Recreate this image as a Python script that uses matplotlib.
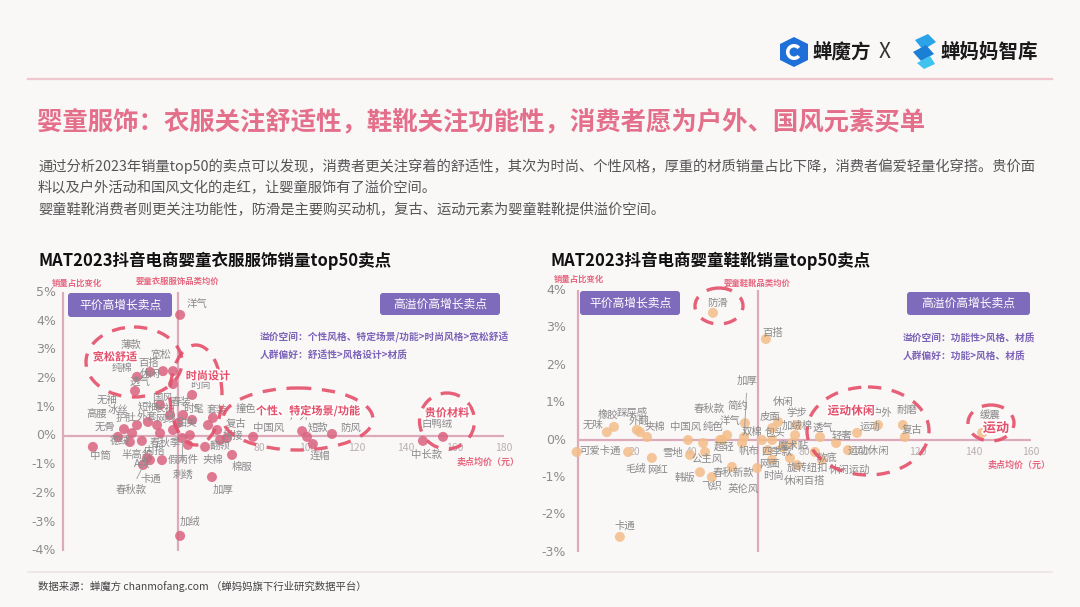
import matplotlib
matplotlib.use('Agg')
import matplotlib.pyplot as plt
import matplotlib.patheffects as pe
from matplotlib.patches import Ellipse, FancyBboxPatch, Polygon, Wedge

plt.rcParams['font.family'] = ['Noto Sans CJK SC', 'DejaVu Sans']

# ---------------- DATA ----------------
clothes_names = ['洋气', '薄款', '宽松', '百搭', '纯棉', '休闲', '透气', '时尚',
                 '无袖', '高腰', '冰丝', '护肚', '外套', '无骨', '德绒', '中筒',
                 '半高领', '内搭', 'A类', '卡通', '春秋款', '短袖', '长袖', '国风',
                 '春装', '时髦', '甜美', '套装', '撞色', '复古', '拼接', '翻领',
                 '夹棉', '假两件', '刺绣', '棉服', '加厚', '加绒', '中国风', '户外',
                 '短款', '防风', '连帽', '中长款', '白鸭绒', '网纱', '春秋季']
clothes_price = [47.8, 35.5, 44.9, 40.8, 30.2, 44.9, 29.4, 52.7,
                 24.9, 28.2, 30.2, 34.7, 38.4, 22.4, 27.3, 12.2,
                 32.2, 40.4, 35.5, 32.7, 34.3, 39.6, 43.7, 49.0,
                 46.9, 52.7, 51.8, 61.2, 62.9, 59.2, 64.1, 58.0,
                 66.9, 51.0, 48.6, 69.0, 60.8, 47.8, 77.6, 97.6,
                 99.6, 109.8, 102.0, 146.9, 155.1, 39.6, 44.9]
clothes_change = [4.22, 2.23, 2.26, 2.26, 2.06, 1.81, 1.57, 1.43,
                  0.24, 0.10, 0.38, 0.49, 0.38, -0.03, -0.21, -0.38,
                  -0.17, -0.84, -0.84, -1.01, -0.77, 1.08, 0.73, 0.73,
                  0.45, 0.56, 0.03, 0.63, 0.21, 0.38, -0.14, -0.38,
                  -0.07, -0.31, -0.07, -0.66, -1.43, -3.48, -0.03, 0.17,
                  -0.03, 0.07, -0.28, -0.17, -0.03, 0.10, 0.21]
clothes_avg_price = 47.0

shoes_names = ['防滑', '百搭', '加厚', '简约', '春秋款', '洋气', '中国风', '纯色',
               '双棉', '包头', '休闲', '皮面', '学步', '加绒棉', '透气', '轻奢',
               '运动', '户外', '耐磨', '复古', '缓震', '运动休闲', '休闲运动', '软底',
               '旋转纽扣', '休闲百搭', '时尚', '网面', '四季款', '魔术贴', '帆布', '超轻',
               '公主风', '雪地', '韩版', '飞织', '春秋新款', '英伦风', '网红', '毛绒',
               '可爱卡通', '无味', '橡胶', '踩屎感', '外翻', '夹棉', '卡通']
shoes_price = [47.7, 66.4, 58.7, 59.0, 50.9, 52.7, 38.9, 44.2,
               65.0, 68.6, 70.7, 68.6, 77.4, 76.7, 85.5, 91.2,
               98.6, 106.0, 114.8, 115.5, 142.8, 95.4, 86.2, 83.7,
               74.9, 77.4, 68.6, 67.1, 72.4, 75.6, 58.0, 50.2,
               44.9, 39.6, 43.1, 47.3, 54.4, 63.3, 26.1, 17.7,
               -0.5, 10.2, 12.7, 20.8, 21.9, 24.4, 14.8]
shoes_change = [3.40, 2.70, 0.08, 0.45, 0.00, 0.13, 0.00, -0.08,
                0.00, 0.00, 0.48, 0.32, 0.40, 0.13, 0.08, -0.08,
                0.19, 0.40, 0.40, 0.08, 0.19, -0.27, -0.53, -0.32,
                -0.48, -0.67, -0.53, -0.27, -0.19, -0.08, -0.08, 0.00,
                -0.32, -0.40, -0.86, -0.99, -0.72, -0.75, -0.48, -0.32,
                -0.32, 0.21, 0.35, 0.27, 0.21, 0.08, -2.59]
shoes_avg_price = 63.6

clothes_yticks = [5, 4, 3, 2, 1, 0, -1, -2, -3, -4]
clothes_xticks = [80, 100, 120, 140, 160, 180]
shoes_yticks = [4, 3, 2, 1, 0, -1, -2, -3]
shoes_xticks = [20, 40, 80, 100, 120, 140, 160]

# label offsets (screen pixels: right, down) -- styling only
clothes_lab = {'洋气': (17, -11), '薄款': (-19, -27), '宽松': (-12, -17), '百搭': (-14, -8),
               '纯棉': (-15, -9), '休闲': (-23, -10), '透气': (5, -8), '时尚': (8, -10),
               '无袖': (-17, -29), '高腰': (-35, -19), '冰丝': (-19, -15), '护肚': (-22, -4),
               '外套': (-10, -8), '无骨': (-13, -10), '德绒': (-10, -1), '中筒': (7, 9),
               '半高领': (-5, 14), '内搭': (-8, -9), 'A类': (-8, 3), '卡通': (8, 14),
               '春秋款': (-16, 32), '短袖': (-12, 2), '长袖': (-5, -6), '国风': (-21, -17),
               '春装': (3, -21), '时髦': (1, -11), '甜美': (-3, -12), '套装': (4, -8),
               '撞色': (29, -21), '复古': (28, -1), '拼接': (13, -4), '翻领': (15, -1),
               '夹棉': (-14, 22), '假两件': (-5, 15), '刺绣': (1, 37), '棉服': (10, 12),
               '加厚': (11, 13), '加绒': (10, -14), '中国风': (15, -9), '户外': (-2, -15),
               '短款': (11, -9), '防风': (18, -6), '连帽': (7, 12), '中长款': (4, 14),
               '白鸭绒': (-6, -13), '网纱': (5, -14), '春秋季': (-8, 13)}
clothes_leader = ['春秋款', '刺绣', '套装']

shoes_lab = {'防滑': (5, -10), '百搭': (7, -6), '加厚': (3, -56), '简约': (-7, -17),
             '春秋款': (-13, -31), '洋气': (3, -14), '中国风': (-3, -13), '纯色': (10, -16),
             '双棉': (-10, -8), '包头': (3, -7), '休闲': (5, -20), '皮面': (-2, -11),
             '学步': (0, -12), '加绒棉': (2, -9), '透气': (3, -8), '轻奢': (6, -7),
             '运动': (13, -6), '户外': (4, -12), '耐磨': (4, -15), '复古': (7, -7),
             '缓震': (8, -18), '运动休闲': (20, 1), '休闲运动': (28, 10), '软底': (12, 6),
             '旋转纽扣': (18, 10), '休闲百搭': (8, 16), '时尚': (1, 16), '网面': (2, 14),
             '四季款': (-6, 5), '魔术贴': (1, 3), '帆布': (6, 8), '超轻': (4, 7),
             '公主风': (2, 7), '雪地': (-17, -2), '韩版': (-15, 6), '飞织': (0, 9),
             '春秋新款': (1, 6), '英伦风': (-14, 21), '网红': (6, 12), '毛绒': (8, 17),
             '可爱卡通': (24, -1), '无味': (-14, -7), '橡胶': (-6, -12), '踩屎感': (-5, -17),
             '外翻': (-1, -11), '夹棉': (8, -10), '卡通': (5, -11)}
shoes_leader = ['加厚']

# ---------------- FIGURE ----------------
W, H = 1080, 607
fig = plt.figure(figsize=(10.8, 6.07), dpi=100)
BG = '#faf7f7'
fig.patch.set_facecolor(BG)


def chart_axes(x0, xs, xlim, y0, ys, ylim):
    left = x0 + xs * xlim[0]
    right = x0 + xs * xlim[1]
    top = y0 - ys * ylim[1]
    bottom = y0 - ys * ylim[0]
    ax = fig.add_axes([left / W, 1 - bottom / H, (right - left) / W, (bottom - top) / H])
    ax.set_xlim(xlim)
    ax.set_ylim(ylim)
    ax.axis('off')
    return ax


GRAY_LAB = '#8a8a8a'
AXIS_COL = '#dcaab8'


def draw_chart(ax, names, px, py, avg, ymin, ymax, xmax, yticks, xticks, labs, leaders,
               dot_color, ytx, xty):
    ax.plot([0, 0], [ymin, ymax], color=AXIS_COL, lw=1.6, zorder=1, solid_capstyle='butt')
    ax.plot([avg, avg], [ymin, ymax], color=AXIS_COL, lw=1.6, zorder=1, solid_capstyle='butt')
    ax.plot([0, xmax], [0, 0], color=AXIS_COL, lw=1.6, zorder=1, solid_capstyle='butt')
    for t in yticks:
        ax.annotate(f'{t}%', (0, t), xytext=(ytx, 0), textcoords='offset pixels',
                    ha='right', va='center', fontsize=9, color='#8c8c8c',
                    family=['DejaVu Sans'])
    for t in xticks:
        ax.annotate(f'{t}', (t, 0), xytext=(0, xty), textcoords='offset pixels',
                    ha='center', va='center', fontsize=7.5, color='#b8b0b0')
    ax.scatter(px, py, s=52, color=dot_color, alpha=0.85, edgecolors='none', zorder=3)
    for n, x, y in zip(names, px, py):
        dx, dy = labs.get(n, (0, -10))
        kw = {}
        if n in leaders:
            kw['arrowprops'] = dict(arrowstyle='-', color='#9a9a9a', lw=0.6,
                                    shrinkA=3, shrinkB=2)
        ax.annotate(n, (x, y), xytext=(dx, -dy), textcoords='offset pixels',
                    ha='center', va='center', fontsize=7.5, color=GRAY_LAB, zorder=4, **kw)


# left chart: 0 price at px 63, 2.45 px/unit ; 0% at py 436, 28.7 px per 1%
axL = chart_axes(63, 2.45, (-12, 190), 436, 28.7, (-4.3, 5.6))
draw_chart(axL, clothes_names, clothes_price, clothes_change, clothes_avg_price,
           -4, 5, 180, clothes_yticks, clothes_xticks, clothes_lab, clothes_leader,
           '#d9637f', -7, -12)

# right chart: 0 price at px 578, 2.83 px/unit ; 0% at py 440, 37.4 px per 1%
axR = chart_axes(578, 2.83, (-12, 170), 440, 37.4, (-3.3, 4.5))
draw_chart(axR, shoes_names, shoes_price, shoes_change, shoes_avg_price,
           -3, 4, 160, shoes_yticks, shoes_xticks, shoes_lab, shoes_leader,
           '#f3bd88', -12, -12)

# ---------------- OVERLAY (pixel space) ----------------
ov = fig.add_axes([0, 0, 1, 1])
ov.set_xlim(0, W)
ov.set_ylim(H, 0)
ov.axis('off')
ov.patch.set_alpha(0)

# header logos
hexag = Polygon([(794, 37), (808, 44), (808, 60), (794, 67), (780, 60), (780, 44)],
                closed=True, facecolor='#1f6fd8', edgecolor='none')
ov.add_patch(hexag)
ov.add_patch(Wedge((794, 52), 8, 40, 320, width=3.5, facecolor='white', edgecolor='none'))
ov.text(812, 52, '蝉魔方', fontsize=14, fontweight='bold', color='#1a1a1a', va='center', ha='left')
ov.text(885, 52, 'X', fontsize=15, color='#333333', va='center', ha='center')
ov.add_patch(Polygon([(915, 40), (928, 34), (936, 42), (923, 50)], facecolor='#2aa3e8', edgecolor='none'))
ov.add_patch(Polygon([(913, 52), (926, 45), (934, 54), (921, 61)], facecolor='#1b7fd6', edgecolor='none'))
ov.add_patch(Polygon([(917, 63), (930, 56), (935, 64), (924, 69)], facecolor='#3fc3ee', edgecolor='none'))
ov.text(940, 52, '蝉妈妈智库', fontsize=14, fontweight='bold', color='#1a1a1a', va='center', ha='left')

ov.plot([28, 1052], [79, 79], color='#f0c6cf', lw=1.6)

ov.text(37, 122, '婴童服饰：衣服关注舒适性，鞋靴关注功能性，消费者愿为户外、国风元素买单',
        fontsize=18.3, fontweight='bold', color='#e46f8b', va='center', ha='left')

body = ['通过分析2023年销量top50的卖点可以发现，消费者更关注穿着的舒适性，其次为时尚、个性风格，厚重的材质销量占比下降，消费者偏爱轻量化穿搭。贵价面',
        '料以及户外活动和国风文化的走红，让婴童服饰有了溢价空间。',
        '婴童鞋靴消费者则更关注功能性，防滑是主要购买动机，复古、运动元素为婴童鞋靴提供溢价空间。']
for i, line in enumerate(body):
    ov.text(38, 166 + i * 22, line, fontsize=10.3, color='#555555', va='center', ha='left')

ov.text(38, 261, 'MAT2023抖音电商婴童衣服服饰销量top50卖点', fontsize=11.9, fontweight='bold',
        color='#111111', va='center', ha='left')
ov.text(551, 261, 'MAT2023抖音电商婴童鞋靴销量top50卖点', fontsize=11.9, fontweight='bold',
        color='#111111', va='center', ha='left')

PINK = '#e5677f'
RED = '#e4506a'
PURPLE_BOX = '#7f6bbb'
PURPLE_TXT = '#7b63b8'

# axis captions
ov.text(77, 283, '销量占比变化', fontsize=6, color=PINK, fontweight='bold', ha='center', va='center')
ov.text(178, 281, '婴童衣服服饰品类均价', fontsize=6, color=PINK, fontweight='bold', ha='center', va='center')
ov.text(488, 462, '卖点均价（元）', fontsize=6.5, color=PINK, fontweight='bold', ha='center', va='center')
ov.text(579, 279, '销量占比变化', fontsize=6, color=PINK, fontweight='bold', ha='center', va='center')
ov.text(757, 283, '婴童鞋靴品类均价', fontsize=6, color=PINK, fontweight='bold', ha='center', va='center')
ov.text(1019, 465, '卖点均价（元）', fontsize=6.5, color=PINK, fontweight='bold', ha='center', va='center')


def box(x0, y0, x1, y1, txt):
    ov.add_patch(FancyBboxPatch((x0, y0), x1 - x0, y1 - y0,
                                boxstyle='round,pad=0,rounding_size=3',
                                facecolor=PURPLE_BOX, edgecolor='none', zorder=5))
    ov.text((x0 + x1) / 2, (y0 + y1) / 2, txt, fontsize=8.5, color='white',
            ha='center', va='center', zorder=6)


box(68, 293, 172, 317, '平价高增长卖点')
box(380, 293, 500, 315, '高溢价高增长卖点')
box(580, 291, 680, 315, '平价高增长卖点')
box(907, 292, 1030, 315, '高溢价高增长卖点')

ov.text(260, 337, '溢价空间：个性风格、特定场景/功能>时尚风格>宽松舒适', fontsize=7,
        fontweight='bold', color=PURPLE_TXT, ha='left', va='center')
ov.text(260, 355, '人群偏好：舒适性>风格设计>材质', fontsize=7,
        fontweight='bold', color=PURPLE_TXT, ha='left', va='center')
ov.text(903, 338, '溢价空间：功能性>风格、材质', fontsize=7,
        fontweight='bold', color=PURPLE_TXT, ha='left', va='center')
ov.text(903, 356, '人群偏好：功能>风格、材质', fontsize=7,
        fontweight='bold', color=PURPLE_TXT, ha='left', va='center')


def dash_ellipse(cx, cy, w, h, ang=0):
    ov.add_patch(Ellipse((cx, cy), w, h, angle=ang, fill=False, edgecolor=RED,
                         lw=2.4, linestyle=(0, (4, 3.2)), alpha=0.9, zorder=7))


dash_ellipse(134, 362, 96, 70)
dash_ellipse(196, 395, 52, 100)
dash_ellipse(298, 419, 150, 62)
dash_ellipse(447, 421, 55, 56)
dash_ellipse(719, 306, 48, 36)
dash_ellipse(868, 431, 122, 88)
dash_ellipse(991, 423, 46, 36)

halo = [pe.withStroke(linewidth=2.5, foreground='white')]
for (x, y, t, fs) in [(115, 357, '宽松舒适', 8), (208, 376, '时尚设计', 8),
                      (308, 411, '个性、特定场景/功能', 8), (447, 413, '贵价材料', 8),
                      (851, 411, '运动休闲', 8.5), (996, 428, '运动', 9.5)]:
    ov.text(x, y, t, fontsize=fs, fontweight='bold', color=RED, ha='center', va='center',
            zorder=8, path_effects=halo)

# footer
ov.plot([28, 1052], [572, 572], color='#ece4e4', lw=1.2)
ov.text(38, 586, '数据来源：蝉魔方 chanmofang.com （蝉妈妈旗下行业研究数据平台）', fontsize=7.5,
        color='#444444', ha='left', va='center')

fig.savefig('out.png', dpi=100, facecolor=BG)
